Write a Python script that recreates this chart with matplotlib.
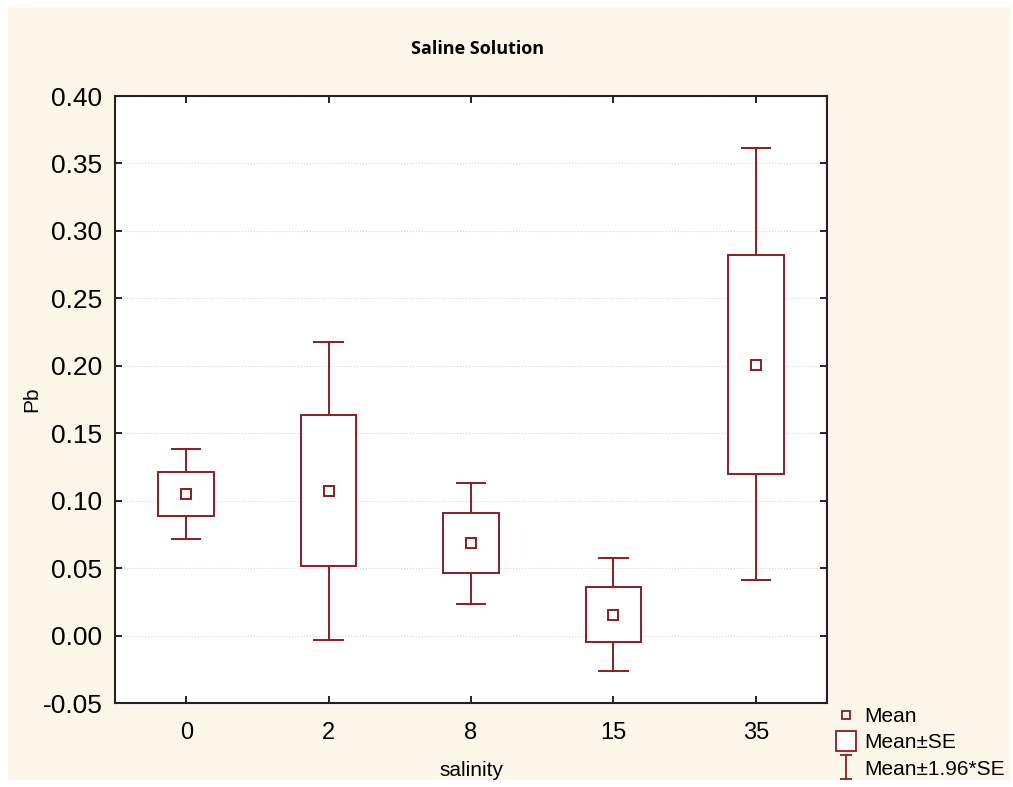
import numpy as np
import matplotlib.pyplot as plt
from matplotlib.lines import Line2D
from matplotlib.path import Path
from matplotlib.patches import Rectangle

# data
salinity = ['0', '2', '8', '15', '35']
means = [0.105, 0.1074, 0.0689, 0.0156, 0.2007]
se_low = [0.0889, 0.0519, 0.0467, -0.0044, 0.1200]
se_high = [0.1215, 0.1637, 0.0911, 0.0363, 0.2822]
ci_low = [0.0719, -0.003, 0.0237, -0.026, 0.0415]
ci_high = [0.1385, 0.2178, 0.1133, 0.0578, 0.3615]
yticks = [-0.05, 0.00, 0.05, 0.10, 0.15, 0.20, 0.25, 0.30, 0.35, 0.40]

col = '#8b1e22'
cream = '#fdf7ea'
box_w = 0.39
cap_w = 0.20

fig = plt.figure(figsize=(10.13, 7.87), dpi=100, facecolor='white')
fig.patches.append(Rectangle((0.008, 0.009), 0.99, 0.982, transform=fig.transFigure,
                             facecolor=cream, edgecolor='none', zorder=-10))
ax = fig.add_axes([0.1135, 0.1067, 0.703, 0.7713])
ax.set_facecolor('white')

x = np.arange(len(salinity))
for i in x:
    # whiskers (mean +/- 1.96*SE)
    ax.plot([i, i], [se_high[i], ci_high[i]], color=col, lw=1.4)
    ax.plot([i, i], [ci_low[i], se_low[i]], color=col, lw=1.4)
    ax.plot([i - cap_w/2, i + cap_w/2], [ci_high[i], ci_high[i]], color=col, lw=1.4)
    ax.plot([i - cap_w/2, i + cap_w/2], [ci_low[i], ci_low[i]], color=col, lw=1.4)
    # box (mean +/- SE)
    ax.add_patch(Rectangle((i - box_w/2, se_low[i]), box_w, se_high[i] - se_low[i],
                           facecolor='white', edgecolor=col, lw=1.4, zorder=3))
ax.plot(x, means, ls='', marker='s', ms=7, mfc='white', mec=col, mew=1.4, zorder=4)

ax.set_xlim(-0.5, 4.5)
ax.set_ylim(-0.05, 0.40)
ax.set_yticks(yticks)
ax.set_yticklabels(['%.2f' % v for v in yticks], fontsize=19, family='Liberation Sans')
ax.set_xticks(x)
ax.set_xticklabels(salinity, fontsize=17, family='Liberation Sans')
ax.tick_params(direction='in', length=5, width=1.2, top=True, right=True)
ax.tick_params(axis='y', pad=9)
ax.tick_params(axis='x', pad=14)
ax.grid(axis='y', color='#d8d8d8', ls=':', lw=0.8)
ax.set_axisbelow(True)
for s in ax.spines.values():
    s.set_linewidth(1.5)
    s.set_color('#222222')

ax.set_ylabel('Pb', fontsize=15, family='Liberation Sans')
ax.yaxis.set_label_coords(-0.104, 0.5)
ax.set_xlabel('salinity', fontsize=15, family='Liberation Sans', labelpad=12)
fig.text(0.471, 0.938, 'Saline Solution', ha='center', va='center', fontsize=13,
         fontweight='bold', family='Open Sans')

# legend
ibar = Path([(-0.5, -1), (0.5, -1), (0, -1), (0, 1), (-0.5, 1), (0.5, 1)],
            [Path.MOVETO, Path.LINETO, Path.MOVETO, Path.LINETO, Path.MOVETO, Path.LINETO])
handles = [Line2D([], [], ls='', marker='s', ms=6, mfc='white', mec=col, mew=1.3),
           Line2D([], [], ls='', marker='s', ms=14, mfc='white', mec=col, mew=1.3),
           Line2D([], [], ls='', marker=ibar, ms=17, mfc='none', mec=col, mew=1.3)]
fig.legend(handles, ['Mean', 'Mean±SE', 'Mean±1.96*SE'], loc='upper left',
           bbox_to_anchor=(0.817, 0.112), frameon=False, handlelength=1.0,
           handletextpad=0.35, labelspacing=0.35, borderaxespad=0,
           prop={'family': 'Liberation Sans', 'size': 15})

fig.savefig('out.png', dpi=100, facecolor='white')
